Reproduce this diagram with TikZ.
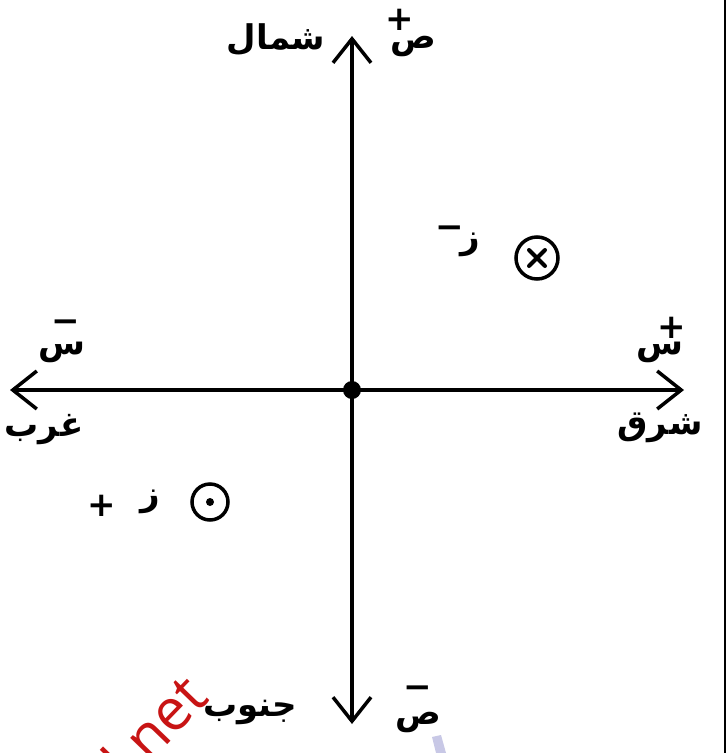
\documentclass[tikz,border=0pt]{standalone}
\usepackage{fontspec}
\newfontfamily\arabicfont[Script=Arabic]{DejaVu Sans}
\newfontfamily\signfont{DejaVu Sans}
\newfontfamily\wmfont{Open Sans}
\TeXXeTstate=1
\usetikzlibrary{arrows.meta}
\definecolor{wmred}{RGB}{200,20,20}
\definecolor{wmblue}{RGB}{200,200,230}
\tikzset{
  axis/.style={line width=3.5pt,-{Straight Barb[length=24pt,width=38pt,line width=3.5pt]}},
  ulabel/.style={font=\arabicfont\bfseries\fontsize{34}{34}\selectfont,inner sep=0pt},
  sign/.style={font=\signfont\bfseries\fontsize{34}{34}\selectfont,inner sep=0pt},
  fieldcirc/.style={circle,draw,line width=3.5pt,minimum size=42pt,inner sep=0pt},
  crossline/.style={line width=4pt,line cap=round}
}
\begin{document}
\begin{tikzpicture}[x=1pt,y=-1pt]
\useasboundingbox (0,0) rectangle (728,753);
\fill[white] (0,0) rectangle (728,753);
% axes
\coordinate (O) at (352,390);
\coordinate (N) at (352,36);
\coordinate (S) at (352,724);
\coordinate (E) at (684,390);
\coordinate (W) at (10,390);
\draw[axis] (O) -- (N);
\draw[axis] (O) -- (S);
\draw[axis] (O) -- (E);
\draw[axis] (O) -- (W);
\fill (O) circle (9);
% right border line
\coordinate (B1) at (725,0);
\coordinate (B2) at (725,753);
\draw[line width=2.5pt] (B1) -- (B2);
% direction names
\node[ulabel] (north) at (276,40) {\beginR شمال\endR};
\node[ulabel] (west) at (44,430) {\beginR غرب\endR};
\node[ulabel] (east) at (660,428) {\beginR شرق\endR};
\node[ulabel] (south) at (250,712) {\beginR جنوب\endR};
% axis letters
\node[ulabel] (yp) at (413,46) {\beginR ص\endR};
\node[sign] (ypsign) at (400,20) {+};
\node[ulabel] (ym) at (418,722) {\beginR ص\endR};
\node[sign] (ymsign) at (418,692) {\textminus};
\node[ulabel] (xm) at (62,352) {\beginR س\endR};
\node[sign] (xmsign) at (66,326) {\textminus};
\node[ulabel] (xp) at (660,352) {\beginR س\endR};
\node[sign] (xpsign) at (672,328) {+};
% field markers
\node[ulabel] (zm) at (470,245) {\beginR ز\endR};
\node[sign] (zmsign) at (450,232) {\textminus};
\node[fieldcirc] (into) at (537,258) {};
\draw[crossline] ([shift={(-8,-8)}]into.center) -- ([shift={(8,8)}]into.center);
\draw[crossline] ([shift={(-8,8)}]into.center) -- ([shift={(8,-8)}]into.center);
\node[ulabel] (zp) at (150,502) {\beginR ز\endR};
\node[sign] (zpsign) at (102,506) {+};
\node[fieldcirc,minimum size=36pt] (out) at (210,502) {};
\fill (out.center) circle (4);
% watermark fragments
\node[text=wmred,rotate=46,font=\wmfont\fontsize{58}{58}\selectfont,inner sep=0pt,anchor=base west] (wm) at (128,785) {l.net};
\fill[wmblue] (432,737) -- (441,735) -- (446,753) -- (436,753) -- cycle;
\end{tikzpicture}
\end{document}
